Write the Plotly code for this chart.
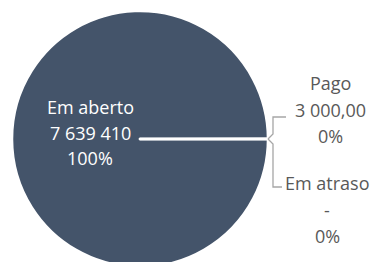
import plotly.graph_objects as go

# ---- data ----
categories = ["Em aberto", "Pago", "Em atraso"]
values = [7639410, 3000, 0]
value_labels = ["7 639 410", "3 000,00", "-"]
pct_labels = ["100%", "0%", "0%"]

OFF = 8  # default page body margin offsets the figure
W, H = 380 - OFF, 262
PIE_COLOR = "#44546A"
FONT = "Open Sans"
FS = 18

def px(x):
    return (x - OFF) / W

def py(y):
    return 1 - (y - OFF) / H

# pie geometry in page pixels: centre (140,139), radius 128
cxp, cyp, r = 140, 139, 128
fig = go.Figure(go.Pie(
    labels=categories,
    values=values,
    sort=False,
    direction="clockwise",
    rotation=90,
    marker=dict(colors=[PIE_COLOR, PIE_COLOR, PIE_COLOR],
                line=dict(color="white", width=2.5)),
    textinfo="none",
    hoverinfo="label+value+percent",
    showlegend=False,
    domain=dict(x=[px(cxp - r), px(cxp + r)], y=[py(cyp + r), py(cyp - r)]),
))

annotations = []
inside_lines = [categories[0], value_labels[0], pct_labels[0]]
for i, t in enumerate(inside_lines):
    annotations.append(dict(x=px(90), y=py(107 + 25.5 * i), xref="paper", yref="paper",
                            text=t, showarrow=False, xanchor="center", yanchor="middle",
                            font=dict(family=FONT, size=FS, color="white")))
blocks = [(1, 330, 83), (2, 327, 183)]
for idx, cx, y0 in blocks:
    lines = [categories[idx], value_labels[idx], pct_labels[idx]]
    for i, t in enumerate(lines):
        annotations.append(dict(x=px(cx), y=py(y0 + 26.6 * i), xref="paper", yref="paper",
                                text=t, showarrow=False, xanchor="center", yanchor="middle",
                                font=dict(family=FONT, size=FS, color="#595959")))

ex = cxp + r
shapes = [
    dict(type="path", xref="paper", yref="paper",
         path=f"M {px(ex)},{py(cyp)} L {px(273)},{py(cyp-5)} L {px(273)},{py(117)} L {px(286)},{py(117)}",
         line=dict(color="#A6A6A6", width=1.3)),
    dict(type="path", xref="paper", yref="paper",
         path=f"M {px(ex)},{py(cyp)} L {px(273)},{py(cyp+5)} L {px(273)},{py(187)} L {px(282)},{py(187)}",
         line=dict(color="#A6A6A6", width=1.3)),
]

fig.update_layout(
    width=W, height=H,
    margin=dict(l=0, r=0, t=0, b=0),
    paper_bgcolor="white", plot_bgcolor="white",
    annotations=annotations, shapes=shapes,
)

fig.write_html("out.html")
